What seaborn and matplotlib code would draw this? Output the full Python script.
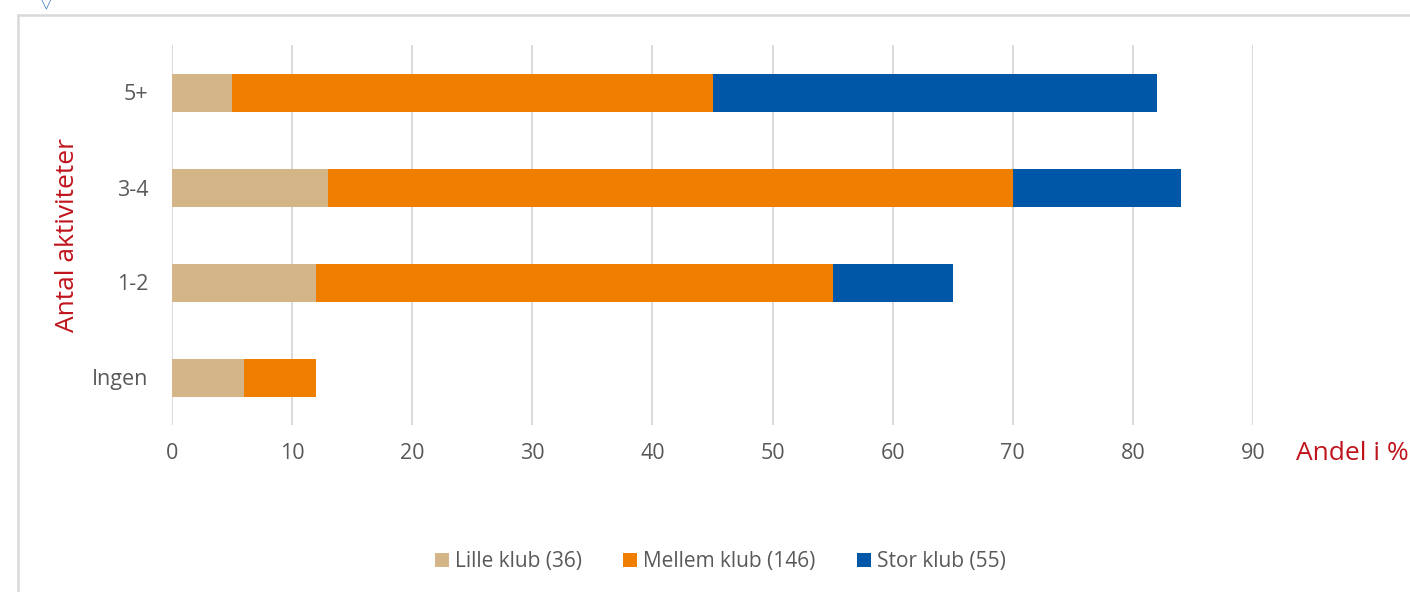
import pandas as pd
import seaborn as sns
import matplotlib.pyplot as plt
from matplotlib.lines import Line2D

# data (percent)
categories = ['5+', '3-4', '1-2', 'Ingen']
lille = [5, 13, 12, 6]
mellem = [40, 57, 43, 6]
stor = [37, 14, 10, 0]
series_names = ['Lille klub (36)', 'Mellem klub (146)', 'Stor klub (55)']
colors = ['#D4B588', '#F07F00', '#0057A8']

df = pd.DataFrame({'cat': categories, 'lille': lille, 'mellem': mellem, 'stor': stor})
df['c1'] = df['lille']
df['c2'] = df['c1'] + df['mellem']
df['c3'] = df['c2'] + df['stor']

sns.set_theme(style='white')
plt.rcParams['font.family'] = ['Open Sans', 'DejaVu Sans']

grey = '#595959'
red = '#C0141C'

fig = plt.figure(figsize=(14.1, 5.92), dpi=100)
ax = fig.add_axes([172 / 1410, 1 - 425 / 592, 1081 / 1410, 380 / 592])

# stacked bars: draw the cumulative totals back to front
for col, name, color in [('c3', series_names[2], colors[2]),
                         ('c2', series_names[1], colors[1]),
                         ('c1', series_names[0], colors[0])]:
    sns.barplot(data=df, x=col, y='cat', order=categories, color=color,
                width=0.4, label=name, ax=ax, saturation=1, linewidth=0, zorder=3)

ax.set_xlim(0, 90)
ax.set_ylim(3.5, -0.5)
ax.set_xticks(range(0, 91, 10))
ax.grid(axis='x', color='#d9d9d9', linewidth=1.4, zorder=0)
ax.grid(axis='y', visible=False)
for s in ax.spines.values():
    s.set_visible(False)
ax.tick_params(axis='x', length=0, pad=13, labelsize=15.5, labelcolor=grey)
ax.tick_params(axis='y', length=0, pad=17, labelsize=15.5, labelcolor=grey)

ax.set_xlabel('')
ax.set_ylabel('Antal aktiviteter', color=red, fontsize=19)
ax.yaxis.set_label_coords(-0.085, 0.5)
ax.text((1296 - 172) / 1081, -0.074, 'Andel i %', transform=ax.transAxes,
        color=red, fontsize=19, ha='left', va='center', clip_on=False)

handles, labels = ax.get_legend_handles_labels()
if ax.get_legend() is not None:
    ax.get_legend().remove()
order = [labels.index(n) for n in series_names]
fig.legend([handles[i] for i in order], [labels[i] for i in order],
           loc='center', bbox_to_anchor=(0.511, 1 - 562 / 592), ncol=3,
           frameon=False, fontsize=15, labelcolor=grey,
           handlelength=0.65, handleheight=0.65, handletextpad=0.3,
           columnspacing=2.0)

# outer frame lines and the little marker on top
fig.add_artist(Line2D([18 / 1410, 18 / 1410], [0, 1 - 15 / 592],
                      transform=fig.transFigure, color='#d9d9d9', linewidth=1.8))
fig.add_artist(Line2D([18 / 1410, 1], [1 - 15 / 592, 1 - 15 / 592],
                      transform=fig.transFigure, color='#d9d9d9', linewidth=1.8))
fig.text(46 / 1410, 1 - 3 / 592, '▽', color='#2f6fc0', fontsize=10,
         ha='center', va='center', family=['DejaVu Sans'])

fig.savefig('out.png', dpi=100)
